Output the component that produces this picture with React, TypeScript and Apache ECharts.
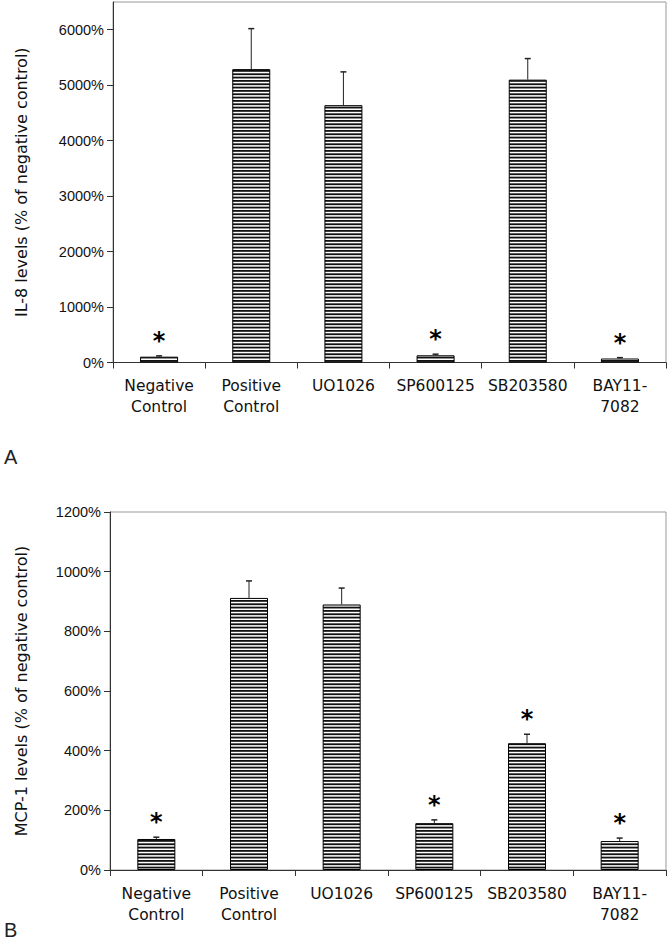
import React, { useEffect, useRef } from "react";
import * as echarts from "echarts";

const categories = ["Negative\nControl", "Positive\nControl", "UO1026", "SP600125", "SB203580", "BAY11-\n7082"];

// Panel A: IL-8 levels (% of negative control)
const il8Values = [105, 5290, 4640, 130, 5100, 72];
const il8ErrTop = [120, 6020, 5240, 150, 5480, 88];
const il8Sig = [1, 0, 0, 1, 0, 1];
const il8Ticks = [0, 1000, 2000, 3000, 4000, 5000, 6000];

// Panel B: MCP-1 levels (% of negative control)
const mcpValues = [104, 912, 890, 157, 425, 97];
const mcpErrTop = [110, 969, 945, 168, 455, 107];
const mcpSig = [1, 0, 0, 1, 1, 1];
const mcpTicks = [0, 200, 400, 600, 800, 1000, 1200];

function makeStripes() {
  const c = document.createElement("canvas");
  c.width = 4;
  c.height = 10;
  const ctx = c.getContext("2d")!;
  ctx.fillStyle = "#ffffff";
  ctx.fillRect(0, 0, 4, 10);
  ctx.fillStyle = "#111111";
  for (let k = 0; k < 3; k++) ctx.fillRect(0, (k * 10) / 3, 4, 1.8);
  return c;
}

export default function App() {
  const ref = useRef<HTMLDivElement>(null);
  useEffect(() => {
    document.body.style.margin = "0";
    const chart = echarts.init(ref.current!, null, { renderer: "svg" });
    const stripes = makeStripes();
    const fill: any = { image: stripes, repeat: "repeat" };

    const xAxisBase = (gridIndex: number) => ({
      type: "category",
      gridIndex,
      data: categories,
      axisLine: { lineStyle: { color: "#333", width: 1 } },
      axisTick: { show: true, length: 6, lineStyle: { color: "#333" } },
      axisLabel: {
        interval: 0,
        fontFamily: "DejaVu Sans",
        fontSize: 15.5,
        color: "#111",
        lineHeight: 21,
        margin: 13,
      },
    });

    const yAxisBase = (gridIndex: number, max: number, ticks: number[], name: string, gap: number) => ({
      type: "value",
      gridIndex,
      min: 0,
      max,
      interval: ticks[1] / 2,
      splitLine: { show: false },
      axisLine: { show: true, lineStyle: { color: "#333", width: 1 } },
      axisTick: { show: true, length: 6, lineStyle: { color: "#333" }, customValues: ticks },
      axisLabel: {
        customValues: ticks,
        formatter: (v: number) => v + "%",
        fontFamily: "Liberation Sans",
        fontSize: 14.5,
        color: "#111",
        margin: 9,
      },
      name,
      nameLocation: "middle",
      nameRotate: 90,
      nameGap: gap,
      nameTextStyle: { fontFamily: "DejaVu Sans", fontSize: 16, color: "#111" },
    });

    const errRender = (params: any, api: any) => {
      const x = api.value(0);
      const v = api.value(1);
      const e = api.value(2);
      const s = api.value(3);
      const p0 = api.coord([x, v]);
      const p1 = api.coord([x, e]);
      const children: any[] = [
        { type: "line", shape: { x1: p0[0], y1: p0[1], x2: p1[0], y2: p1[1] }, style: { stroke: "#222", lineWidth: 1 } },
        { type: "line", shape: { x1: p1[0] - 3, y1: p1[1], x2: p1[0] + 3, y2: p1[1] }, style: { stroke: "#222", lineWidth: 1.5 } },
      ];
      if (s) {
        children.push({
          type: "text",
          style: {
            text: "*",
            x: p1[0],
            y: p1[1] - 15,
            align: "center",
            verticalAlign: "middle",
            font: "bold 24px DejaVu Sans",
            fill: "#000",
          },
        });
      }
      return { type: "group", children };
    };

    const errData = (vals: number[], tops: number[], sig: number[]) =>
      vals.map((v, i) => [i, v, tops[i], sig[i]]);

    chart.setOption({
      animation: false,
      grid: [
        { left: 113, right: 3, top: 2, height: 360.5, show: true, borderColor: "#999", borderWidth: 1 },
        { left: 110, right: 3, top: 512, height: 358, show: true, borderColor: "#999", borderWidth: 1 },
      ],
      xAxis: [xAxisBase(0), xAxisBase(1)],
      yAxis: [
        yAxisBase(0, 6500, il8Ticks, "IL-8 levels (% of negative control)", 84),
        yAxisBase(1, 1200, mcpTicks, "MCP-1 levels (% of negative control)", 81),
      ],
      series: [
        {
          type: "bar",
          xAxisIndex: 0,
          yAxisIndex: 0,
          data: il8Values,
          barWidth: 38,
          itemStyle: { color: fill, borderColor: "#000", borderWidth: 1 },
        },
        {
          type: "custom",
          xAxisIndex: 0,
          yAxisIndex: 0,
          data: errData(il8Values, il8ErrTop, il8Sig),
          encode: { x: 0, y: [1, 2] },
          renderItem: errRender,
          z: 5,
        },
        {
          type: "bar",
          xAxisIndex: 1,
          yAxisIndex: 1,
          data: mcpValues,
          barWidth: 38,
          itemStyle: { color: fill, borderColor: "#000", borderWidth: 1 },
        },
        {
          type: "custom",
          xAxisIndex: 1,
          yAxisIndex: 1,
          data: errData(mcpValues, mcpErrTop, mcpSig),
          encode: { x: 0, y: [1, 2] },
          renderItem: errRender,
          z: 5,
        },
      ],
      graphic: [
        { type: "text", left: 4, top: 447, style: { text: "A", font: "20px Liberation Sans", fill: "#222" } },
        { type: "text", left: 4, top: 920, style: { text: "B", font: "20px Liberation Sans", fill: "#222" } },
      ],
    });
    return () => chart.dispose();
  }, []);
  return <div ref={ref} style={{ position: "absolute", left: 0, top: 0, width: 669, height: 943 }} />;
}
